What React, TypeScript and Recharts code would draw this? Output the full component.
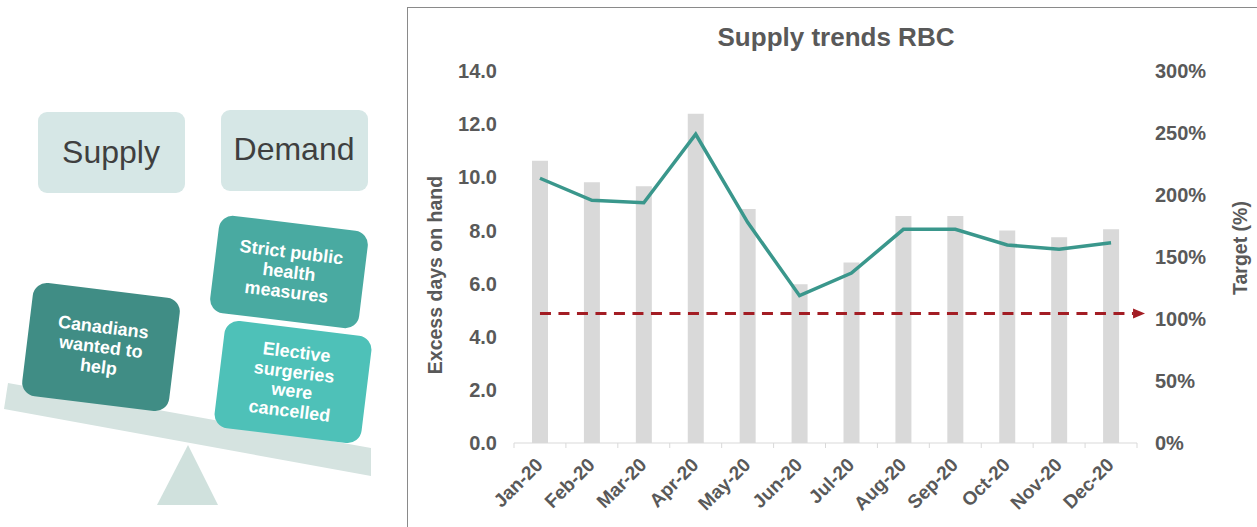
import React from 'react';
import { ComposedChart, Bar, Line, XAxis, YAxis, ReferenceLine, Label } from 'recharts';

const months = ['Jan-20', 'Feb-20', 'Mar-20', 'Apr-20', 'May-20', 'Jun-20', 'Jul-20', 'Aug-20', 'Sep-20', 'Oct-20', 'Nov-20', 'Dec-20'];
const excessDays = [10.62, 9.81, 9.66, 12.39, 8.81, 5.97, 6.79, 8.54, 8.54, 8.0, 7.74, 8.04];
const targetPct = [213.5, 195.7, 193.8, 249, 178, 118.8, 137, 172.3, 172.3, 159.7, 156.2, 161.5];
const leftTicks = [0, 2, 4, 6, 8, 10, 12, 14];
const rightTicks = [0, 50, 100, 150, 200, 250, 300];
const targetDays = 4.87;

const data = months.map((m, i) => ({ month: m, days: excessDays[i], target: targetPct[i] }));

const FONT = "Arial, 'Liberation Sans', sans-serif";
const TXT = '#595959';

const XTick = (props: any) => {
  const { x, y, payload, index } = props;
  const off = payload && typeof payload.offset === 'number' ? payload.offset : 26;
  return (
    <g>
      <line x1={x - off} y1={y} x2={x - off} y2={y + 5} stroke="#d9d9d9" strokeWidth={1} />
      {index === months.length - 1 && (
        <line x1={x + off} y1={y} x2={x + off} y2={y + 5} stroke="#d9d9d9" strokeWidth={1} />
      )}
      <text
        x={x + 4}
        y={y + 23}
        textAnchor="end"
        transform={`rotate(-45, ${x + 4}, ${y + 23})`}
        fill={TXT}
        fontSize={19}
        fontWeight="bold"
        fontFamily={FONT}
      >
        {payload.value}
      </text>
    </g>
  );
};

const ArrowLine = (p: any) => {
  const { x1, y1, x2 } = p;
  const end = x2 + 22;
  return (
    <g>
      <line x1={x1} y1={y1} x2={end} y2={y1} stroke="#a31d24" strokeWidth={3} strokeDasharray="11 7.5" />
      <polygon points={`${end},${y1 - 5} ${end + 12},${y1} ${end},${y1 + 5}`} fill="#a31d24" />
    </g>
  );
};

const Illustration = () => (
  <svg width={400} height={527} style={{ position: 'absolute', left: 0, top: 0 }} fontFamily={FONT}>
    <rect x={38} y={112} width={147} height={81} rx={9} fill="#d6e7e6" />
    <text x={111} y={152} textAnchor="middle" dominantBaseline="central" fontSize={32} fill="#3f3f3f">Supply</text>
    <rect x={221} y={110} width={147} height={81} rx={9} fill="#d6e7e6" />
    <text x={294} y={149} textAnchor="middle" dominantBaseline="central" fontSize={32} fill="#3f3f3f">Demand</text>

    <polygon points="8,383 371,448 371,476 4,409" fill="#d5e3e0" />
    <polygon points="188,445 218,505 157,505" fill="#d0e1dd" />

    <g transform="rotate(7, 101, 347)">
      <rect x={27} y={290} width={148} height={114} rx={14} fill="#408d85" />
      <g fontSize={18} fontWeight="bold" fill="#ffffff" textAnchor="middle">
        <text x={101} y={333}>Canadians</text>
        <text x={101} y={353}>wanted to</text>
        <text x={101} y={373}>help</text>
      </g>
    </g>
    <g transform="rotate(7, 289, 272)">
      <rect x={214} y={223} width={150} height={98} rx={14} fill="#49aaa1" />
      <g fontSize={18} fontWeight="bold" fill="#ffffff" textAnchor="middle">
        <text x={289} y={258}>Strict public</text>
        <text x={289} y={278}>health</text>
        <text x={289} y={298}>measures</text>
      </g>
    </g>
    <g transform="rotate(7, 293, 382)">
      <rect x={219} y={328} width={148} height={108} rx={14} fill="#4ec1b8" />
      <g fontSize={18} fontWeight="bold" fill="#ffffff" textAnchor="middle">
        <text x={293} y={358}>Elective</text>
        <text x={293} y={378}>surgeries</text>
        <text x={293} y={397}>were</text>
        <text x={293} y={417}>cancelled</text>
      </g>
    </g>
  </svg>
);

export default function App() {
  return (
    <div style={{ position: 'absolute', left: 0, top: 0, width: 1257, height: 527, background: '#ffffff', overflow: 'hidden', fontFamily: FONT }}>
      <Illustration />
      <div style={{ position: 'absolute', left: 407, top: 7, width: 860, height: 530, borderLeft: '1.5px solid #8a8a8a', borderTop: '1.5px solid #8a8a8a', boxSizing: 'border-box' }} />
      <div style={{ position: 'absolute', left: 408, top: 8 }}>
        <ComposedChart width={849} height={519} data={data} margin={{ top: 63, right: 0, bottom: 0, left: 0 }}>
          <XAxis
            dataKey="month"
            xAxisId={0}
            height={84}
            axisLine={{ stroke: '#d9d9d9' }}
            tickLine={false}
            tickSize={0}
            tickMargin={0}
            interval={0}
            tick={<XTick />}
          />
          <YAxis
            yAxisId="left"
            orientation="left"
            width={106}
            domain={[0, 14]}
            ticks={leftTicks}
            tickFormatter={(v: number) => v.toFixed(1)}
            axisLine={false}
            tickLine={false}
            tickSize={0}
            tickMargin={17}
            tick={{ fill: TXT, fontSize: 20, fontWeight: 'bold', fontFamily: FONT }}
          >
            <Label
              content={(lp: any) => {
                const vb = lp.viewBox;
                const cx = vb.x + 27;
                const cy = vb.y + vb.height / 2 + 18;
                return (
                  <text x={cx} y={cy} transform={`rotate(-90, ${cx}, ${cy})`} textAnchor="middle" dominantBaseline="central" fill={TXT} fontSize={19.5} fontWeight="bold" fontFamily={FONT}>
                    Excess days on hand
                  </text>
                );
              }}
            />
          </YAxis>
          <YAxis
            yAxisId="right"
            orientation="right"
            width={120}
            domain={[0, 300]}
            ticks={rightTicks}
            tickFormatter={(v: number) => `${v}%`}
            axisLine={false}
            tickLine={false}
            tickSize={0}
            tickMargin={18}
            tick={{ fill: TXT, fontSize: 20, fontWeight: 'bold', fontFamily: FONT }}
          >
            <Label
              content={(lp: any) => {
                const vb = lp.viewBox;
                const cx = vb.x + 103;
                const cy = vb.y + vb.height / 2 - 9;
                return (
                  <text x={cx} y={cy} transform={`rotate(-90, ${cx}, ${cy})`} textAnchor="middle" dominantBaseline="central" fill={TXT} fontSize={19.5} fontWeight="bold" fontFamily={FONT}>
                    Target (%)
                  </text>
                );
              }}
            />
          </YAxis>
          <Bar yAxisId="left" dataKey="days" fill="#d9d9d9" barSize={16} isAnimationActive={false} />
          <Line yAxisId="right" type="linear" dataKey="target" stroke="#3a978c" strokeWidth={3.5} dot={false} activeDot={false} isAnimationActive={false} />
          <ReferenceLine
            yAxisId="left"
            segment={[{ x: months[0], y: targetDays }, { x: months[months.length - 1], y: targetDays }]}
            shape={<ArrowLine />}
          />
        </ComposedChart>
      </div>
      <div style={{ position: 'absolute', left: 636, top: 21, width: 400, textAlign: 'center', fontSize: 26, fontWeight: 'bold', color: TXT, lineHeight: '32px' }}>
        Supply trends RBC
      </div>
    </div>
  );
}
